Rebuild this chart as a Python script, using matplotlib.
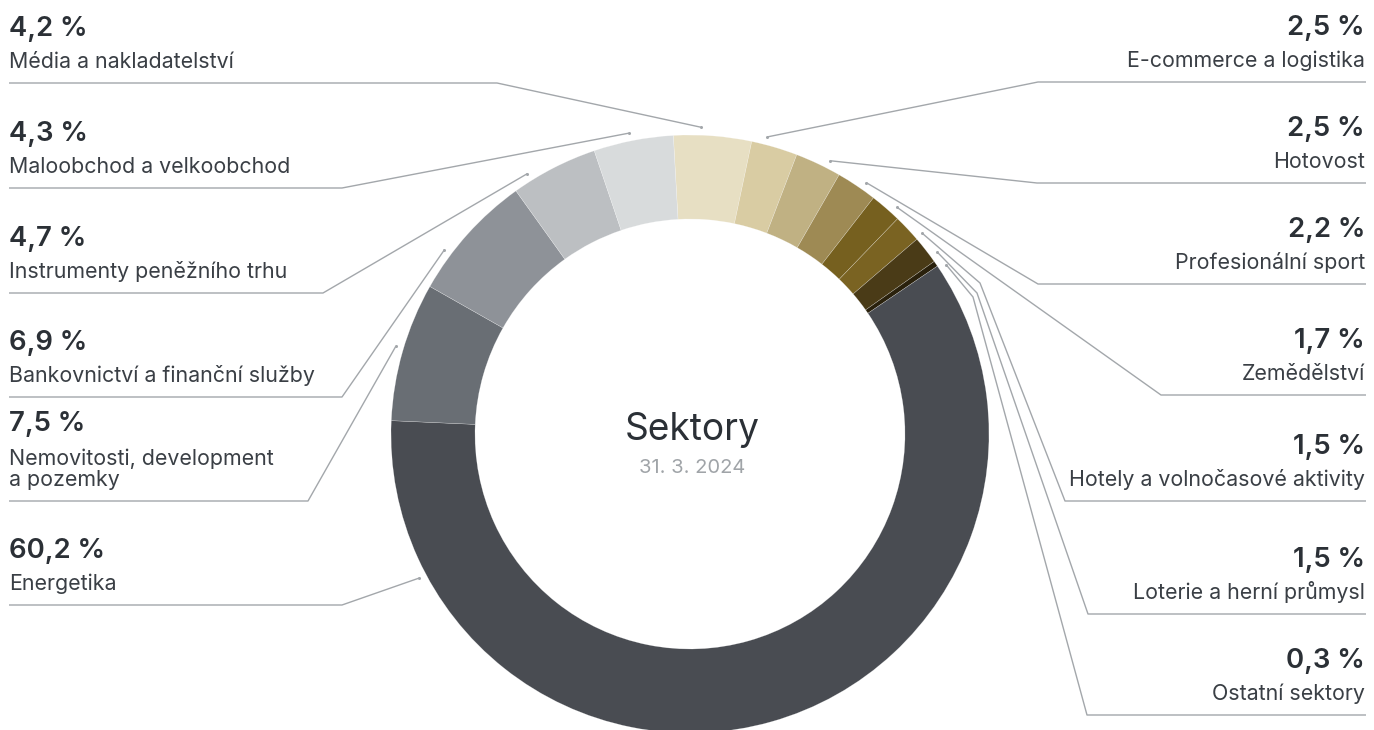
import numpy as np
import matplotlib
matplotlib.use("Agg")
import matplotlib.pyplot as plt

plt.rcParams['font.family'] = ['Inter', 'DejaVu Sans']

# data, clockwise from the top
sectors = ['Média a nakladatelství', 'E-commerce a logistika', 'Hotovost',
           'Profesionální sport', 'Zemědělství', 'Hotely a volnočasové aktivity',
           'Loterie a herní průmysl', 'Ostatní sektory', 'Energetika',
           'Nemovitosti, development\na pozemky', 'Bankovnictví a finanční služby',
           'Instrumenty peněžního trhu', 'Maloobchod a velkoobchod']
shares = [4.2, 2.5, 2.5, 2.2, 1.7, 1.5, 1.5, 0.3, 60.2, 7.5, 6.9, 4.7, 4.3]
colors = ['#e7dfc3', '#d9cca3', '#c0b183', '#9e8a54', '#76601f', '#7a6322',
          '#4a3b17', '#2a210c', '#494c52', '#696e74', '#8e9298', '#bcbfc2',
          '#d8dbdc']
title = 'Sektory'
date = '31. 3. 2024'

# label layout: side, underline y, elbow x, anchor angle (deg), extra bends
layout = [
    ('L', 83, 497, 88.0, []),
    ('R', 82, 1038, 75.4, []),
    ('R', 183, 1037, 62.9, []),
    ('R', 284, 1038, 55.0, []),
    ('R', 395, 1161, 47.6, []),
    ('R', 501, 1065, 40.8, [(980, 283)]),
    ('R', 614, 1088, 36.3, [(977, 293)]),
    ('R', 715, 1087, 33.5, [(973, 297)]),
    ('L', 605, 342, 208.0, []),
    ('L', 501, 308, 163.4, []),
    ('L', 397, 342, 143.1, []),
    ('L', 293, 323, 122.0, []),
    ('L', 188, 342, 101.5, []),
]

W, H = 1374, 730
cx, cy, R = 690, H - 434, 299
line_col = '#a3a7ab'

fig = plt.figure(figsize=(W / 100, H / 100), dpi=100)
ax = fig.add_axes([0, 0, 1, 1])
ax.pie(shares, colors=colors, startangle=93.2, counterclock=False,
       radius=R, center=(cx, cy),
       wedgeprops=dict(width=84, edgecolor=(1, 1, 1, 0.45), linewidth=0.3))
ax.set_xlim(0, W)
ax.set_ylim(0, H)
ax.set_aspect('equal')
ax.axis('off')

for name, val, (side, ly, ex, ang, bends) in zip(sectors, shares, layout):
    a = np.radians(ang)
    r = R + 8
    px, py = cx + r * np.cos(a), cy + r * np.sin(a)
    xs = [px] + [b[0] for b in bends] + [ex, 9 if side == 'L' else 1366]
    ys = [py] + [H - b[1] for b in bends] + [H - ly, H - ly]
    ax.plot(xs, ys, color=line_col, lw=1.0, solid_capstyle='butt')
    ax.plot(px, py, 'o', ms=2.2, color=line_col, mec='none')

    nlines = name.count('\n') + 1
    name_y = ly - 15          # baseline of the last line
    pct_y = name_y - 32 - 23 * (nlines - 1)
    tx = 9 if side == 'L' else 1365
    ha = 'left' if side == 'L' else 'right'
    pct = f'{val:.1f}'.replace('.', ',') + ' %'
    ax.text(tx, H - pct_y, pct, ha=ha, va='baseline', fontsize=19.8,
            fontweight='semibold', color='#2b3036')
    ax.text(tx, H - name_y, name, ha=ha, va='baseline', fontsize=15.4,
            color='#3a3f45', linespacing=1.05)

ax.text(cx + 2, H - 440, title, ha='center', va='baseline', fontsize=26.7,
        color='#2b3036')
ax.text(cx + 2, H - 473, date, ha='center', va='baseline', fontsize=14.5,
        color='#a0a4a8')

fig.savefig('out.png', dpi=100)
